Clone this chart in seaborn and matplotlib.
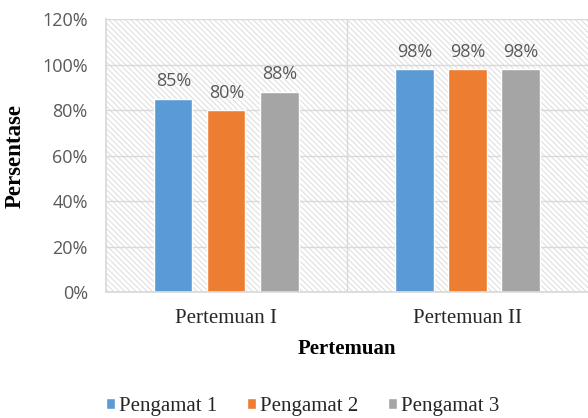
import matplotlib
matplotlib.use("Agg")
import matplotlib.pyplot as plt
import matplotlib.patches as mpatches
from matplotlib.ticker import PercentFormatter
import pandas as pd
import seaborn as sns

meetings = ["Pertemuan I", "Pertemuan II"]
observers = ["Pengamat 1", "Pengamat 2", "Pengamat 3"]
obs1 = [85, 98]
obs2 = [80, 98]
obs3 = [88, 98]
colors = ["#5B9BD5", "#ED7D31", "#A5A5A5"]

rows = []
for name, vals in zip(observers, [obs1, obs2, obs3]):
    for m, v in zip(meetings, vals):
        rows.append({"Pertemuan": m, "Pengamat": name, "Persentase": v})
df = pd.DataFrame(rows)

sns.set_theme(style="white")
plt.rcParams["hatch.linewidth"] = 0.8

fig = plt.figure(figsize=(5.88, 4.18), dpi=100)
ax = fig.add_axes([0.180, 0.3014, 0.82, 0.6531])

# light diagonal hatch behind the bars
bg = mpatches.Rectangle((0, 0), 1, 1, transform=ax.transAxes, facecolor="white",
                        edgecolor="#e0e0e0", hatch="\\" * 6, lw=0, zorder=0.1)
ax.add_patch(bg)

sns.barplot(data=df, x="Pertemuan", y="Persentase", hue="Pengamat",
            palette=colors, saturation=1, width=0.66, gap=0.28, ax=ax,
            zorder=2, legend=True)

for cont in ax.containers:
    ax.bar_label(cont, labels=[f"{int(v)}%" for v in cont.datavalues], padding=6,
                 fontsize=13, color="#595959", family="Open Sans")

ax.set_xlim(-0.5, 1.5)
ax.set_ylim(0, 120)
ax.set_yticks(range(0, 121, 20))
ax.yaxis.set_major_formatter(PercentFormatter(decimals=0))
ax.set_axisbelow(True)
ax.grid(axis="y", color="#d9d9d9", lw=1)
ax.axvline(0.5, color="#d9d9d9", lw=1, zorder=0.5)

for s in ["top", "right"]:
    ax.spines[s].set_visible(False)
ax.spines["left"].set_color("#d9d9d9")
ax.spines["bottom"].set_color("#d9d9d9")

ax.tick_params(axis="y", length=0, pad=13, labelsize=13, labelcolor="#595959")
ax.tick_params(axis="x", length=0, pad=12, labelsize=15, labelcolor="#262626")
for t in ax.get_yticklabels():
    t.set_family("Open Sans")
for t in ax.get_xticklabels():
    t.set_family("Liberation Serif")

ax.set_xlabel("Pertemuan", fontsize=15, fontweight="bold", family="Liberation Serif",
              color="black", labelpad=8)
ax.set_ylabel("Persentase", fontsize=16.5, fontweight="bold", family="Liberation Serif",
              color="black", labelpad=12)

handles, labels = ax.get_legend_handles_labels()
ax.get_legend().remove()
fig.legend(handles, labels, loc="lower center", bbox_to_anchor=(0.515, -0.04), ncol=3,
           frameon=False, handlelength=0.45, handleheight=0.45, handletextpad=0.2,
           columnspacing=1.4, prop={"family": "Liberation Serif", "size": 15})

fig.savefig("out.png", dpi=100)
